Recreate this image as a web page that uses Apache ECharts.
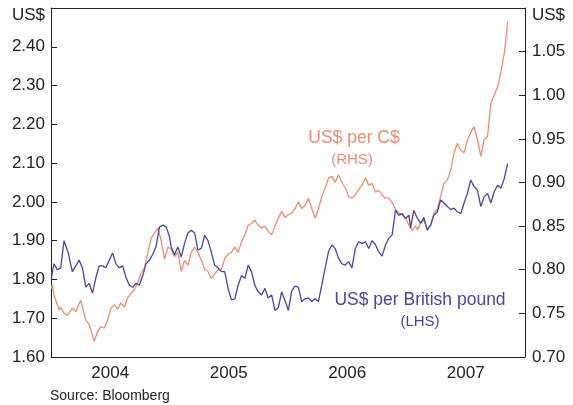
<!DOCTYPE html>
<html>
<head>
<meta charset="utf-8">
<script src="https://cdn.jsdelivr.net/npm/echarts@6/dist/echarts.min.js"></script>
<style>
  html, body { margin: 0; padding: 0; background: #fff; }
  #chart { width: 573px; height: 405px; }
</style>
</head>
<body>
<div id="chart"></div>
<script>
// x values are fractional years (2004.5 = mid 2004)
var years = ['2004', '2005', '2006', '2007']

// US$ per British pound (LHS)
var gbp = [
  [2004.003, 1.80], [2004.01, 1.816], [2004.025, 1.84], [2004.053, 1.825], [2004.082, 1.83],
  [2004.11, 1.90], [2004.144, 1.87], [2004.18, 1.82], [2004.209, 1.835], [2004.237, 1.85],
  [2004.265, 1.83], [2004.294, 1.78], [2004.322, 1.79], [2004.35, 1.765], [2004.379, 1.805],
  [2004.407, 1.835], [2004.435, 1.835], [2004.463, 1.83], [2004.492, 1.85], [2004.52, 1.868],
  [2004.548, 1.84], [2004.576, 1.83], [2004.605, 1.835], [2004.633, 1.805], [2004.661, 1.785],
  [2004.689, 1.78], [2004.718, 1.79], [2004.746, 1.785], [2004.774, 1.81], [2004.802, 1.84],
  [2004.831, 1.85], [2004.859, 1.865], [2004.887, 1.885], [2004.915, 1.935], [2004.944, 1.94],
  [2004.972, 1.935], [2004.986, 1.923], [2005.0, 1.91], [2005.014, 1.884], [2005.042, 1.863],
  [2005.07, 1.884], [2005.099, 1.858], [2005.127, 1.893], [2005.155, 1.92], [2005.184, 1.927],
  [2005.212, 1.92], [2005.24, 1.876], [2005.269, 1.88], [2005.297, 1.914], [2005.325, 1.90],
  [2005.353, 1.87], [2005.381, 1.837], [2005.409, 1.83], [2005.438, 1.82], [2005.466, 1.82],
  [2005.494, 1.777], [2005.523, 1.747], [2005.551, 1.75], [2005.579, 1.785], [2005.608, 1.81],
  [2005.636, 1.803], [2005.664, 1.837], [2005.692, 1.82], [2005.72, 1.785], [2005.748, 1.768],
  [2005.777, 1.76], [2005.805, 1.777], [2005.833, 1.752], [2005.862, 1.76], [2005.89, 1.72],
  [2005.918, 1.727], [2005.947, 1.768], [2005.975, 1.745], [2006.003, 1.72], [2006.031, 1.77],
  [2006.059, 1.783], [2006.087, 1.78], [2006.116, 1.743], [2006.144, 1.75], [2006.172, 1.752],
  [2006.201, 1.743], [2006.229, 1.75], [2006.257, 1.743], [2006.285, 1.786], [2006.314, 1.83],
  [2006.342, 1.872], [2006.37, 1.889], [2006.398, 1.88], [2006.426, 1.855], [2006.455, 1.84],
  [2006.483, 1.837], [2006.511, 1.846], [2006.54, 1.83], [2006.568, 1.88], [2006.596, 1.897],
  [2006.625, 1.893], [2006.653, 1.897], [2006.681, 1.88], [2006.709, 1.90], [2006.737, 1.89],
  [2006.765, 1.872], [2006.794, 1.86], [2006.822, 1.888], [2006.85, 1.906], [2006.879, 1.915],
  [2006.907, 1.979], [2006.935, 1.966], [2006.964, 1.97], [2006.992, 1.957], [2007.02, 1.966],
  [2007.035, 1.932], [2007.048, 1.957], [2007.062, 1.978], [2007.076, 1.974], [2007.091, 1.958],
  [2007.119, 1.945], [2007.147, 1.96], [2007.175, 1.927], [2007.203, 1.94], [2007.232, 1.966],
  [2007.26, 1.974], [2007.288, 2.005], [2007.316, 1.997], [2007.345, 1.988], [2007.373, 1.98],
  [2007.401, 1.984], [2007.43, 1.974], [2007.458, 1.97], [2007.486, 1.997], [2007.514, 2.022],
  [2007.542, 2.056], [2007.57, 2.04], [2007.599, 2.03], [2007.627, 1.988], [2007.655, 2.013],
  [2007.684, 2.022], [2007.712, 1.997], [2007.74, 2.026], [2007.769, 2.043], [2007.797, 2.035],
  [2007.825, 2.06], [2007.853, 2.099]
]

// US$ per C$ (RHS)
var cad = [
  [2004.003, 0.778], [2004.01, 0.783], [2004.025, 0.771], [2004.04, 0.765], [2004.068, 0.754],
  [2004.082, 0.757], [2004.11, 0.75], [2004.14, 0.748], [2004.18, 0.756], [2004.209, 0.752],
  [2004.251, 0.765], [2004.265, 0.757], [2004.294, 0.742], [2004.322, 0.737], [2004.35, 0.725],
  [2004.364, 0.718], [2004.393, 0.729], [2004.421, 0.735], [2004.449, 0.733], [2004.477, 0.742],
  [2004.506, 0.756], [2004.534, 0.76], [2004.562, 0.755], [2004.59, 0.762], [2004.619, 0.757],
  [2004.647, 0.768], [2004.675, 0.773], [2004.703, 0.777], [2004.732, 0.785], [2004.76, 0.796],
  [2004.788, 0.802], [2004.816, 0.819], [2004.845, 0.836], [2004.873, 0.842], [2004.901, 0.848],
  [2004.929, 0.834], [2004.958, 0.812], [2004.986, 0.826], [2005.014, 0.824], [2005.042, 0.815],
  [2005.07, 0.82], [2005.099, 0.798], [2005.127, 0.811], [2005.155, 0.805], [2005.184, 0.82],
  [2005.212, 0.826], [2005.24, 0.82], [2005.269, 0.811], [2005.297, 0.80], [2005.325, 0.798],
  [2005.353, 0.79], [2005.381, 0.795], [2005.409, 0.80], [2005.438, 0.80], [2005.466, 0.813],
  [2005.494, 0.818], [2005.523, 0.82], [2005.551, 0.826], [2005.579, 0.82], [2005.608, 0.832],
  [2005.636, 0.84], [2005.664, 0.851], [2005.692, 0.853], [2005.72, 0.857], [2005.748, 0.851],
  [2005.777, 0.848], [2005.805, 0.85], [2005.833, 0.844], [2005.862, 0.84], [2005.89, 0.85],
  [2005.918, 0.859], [2005.947, 0.867], [2005.975, 0.86], [2006.003, 0.863], [2006.031, 0.865],
  [2006.059, 0.87], [2006.087, 0.878], [2006.116, 0.87], [2006.144, 0.874], [2006.172, 0.882],
  [2006.201, 0.87], [2006.229, 0.859], [2006.257, 0.87], [2006.285, 0.884], [2006.314, 0.894],
  [2006.342, 0.905], [2006.37, 0.907], [2006.398, 0.90], [2006.426, 0.909], [2006.455, 0.90],
  [2006.483, 0.894], [2006.511, 0.884], [2006.54, 0.882], [2006.568, 0.886], [2006.596, 0.892],
  [2006.625, 0.897], [2006.653, 0.905], [2006.681, 0.897], [2006.709, 0.899], [2006.737, 0.889],
  [2006.765, 0.891], [2006.794, 0.886], [2006.822, 0.882], [2006.85, 0.882], [2006.879, 0.877],
  [2006.907, 0.869], [2006.935, 0.865], [2006.964, 0.863], [2006.992, 0.859], [2007.02, 0.851],
  [2007.048, 0.845], [2007.076, 0.85], [2007.091, 0.846], [2007.119, 0.853], [2007.147, 0.857],
  [2007.175, 0.846], [2007.203, 0.851], [2007.232, 0.865], [2007.26, 0.869], [2007.288, 0.884],
  [2007.316, 0.899], [2007.345, 0.903], [2007.373, 0.914], [2007.401, 0.934], [2007.43, 0.945],
  [2007.458, 0.937], [2007.486, 0.934], [2007.514, 0.949], [2007.542, 0.957], [2007.57, 0.964],
  [2007.599, 0.949], [2007.627, 0.93], [2007.655, 0.949], [2007.684, 0.953], [2007.712, 0.991],
  [2007.74, 1.0], [2007.769, 1.01], [2007.797, 1.027], [2007.825, 1.048], [2007.839, 1.064],
  [2007.853, 1.0845]
]

var axisColor = '#222'
var orange = '#f08c70'
var blue = '#4a44a8'
var font = 'Liberation Sans, Arial, sans-serif'

var chart = echarts.init(document.getElementById('chart'))
var option = {
  backgroundColor: '#fff',
  animation: false,
  textStyle: {fontFamily: font},
  grid: {left: 51, right: 48, top: 8, bottom: 48},
  xAxis: [
    {
      type: 'category',
      data: years,
      boundaryGap: true,
      position: 'bottom',
      axisLine: {lineStyle: {color: axisColor, width: 1}},
      axisTick: {inside: true, length: 6, lineStyle: {color: axisColor}},
      axisLabel: {fontSize: 17, color: axisColor, margin: 8, fontFamily: font},
      splitLine: {show: false}
    },
    {
      // data axis, its line closes the frame at the top
      type: 'value',
      min: 2004,
      max: 2008,
      position: 'top',
      axisLine: {show: true, onZero: false, lineStyle: {color: axisColor, width: 1}},
      axisTick: {show: false},
      axisLabel: {show: false},
      splitLine: {show: false}
    }
  ],
  yAxis: [
    {
      type: 'value',
      min: 1.6,
      max: 2.5,
      interval: 0.1,
      position: 'left',
      name: 'US$',
      nameLocation: 'end',
      nameGap: -7,
      nameTextStyle: {fontSize: 17, color: axisColor, align: 'right', verticalAlign: 'middle', padding: [0, 6, 0, 0], fontFamily: font},
      axisLine: {show: true, onZero: false, lineStyle: {color: axisColor, width: 1}},
      axisTick: {show: true, inside: true, length: 6, lineStyle: {color: axisColor}},
      axisLabel: {
        fontSize: 17,
        color: axisColor,
        margin: 6,
        fontFamily: font,
        showMaxLabel: false,
        formatter: function(v) { return v.toFixed(2) }
      },
      splitLine: {show: false}
    },
    {
      type: 'value',
      min: 0.7,
      max: 1.1,
      interval: 0.05,
      position: 'right',
      name: 'US$',
      nameLocation: 'end',
      nameGap: -7,
      nameTextStyle: {fontSize: 17, color: axisColor, align: 'left', verticalAlign: 'middle', padding: [0, 0, 0, 7], fontFamily: font},
      axisLine: {show: true, onZero: false, lineStyle: {color: axisColor, width: 1}},
      axisTick: {show: true, inside: true, length: 6, lineStyle: {color: axisColor}},
      axisLabel: {
        fontSize: 17,
        color: axisColor,
        margin: 7,
        fontFamily: font,
        showMaxLabel: false,
        formatter: function(v) { return v.toFixed(2) }
      },
      splitLine: {show: false}
    }
  ],
  graphic: [
    {type: 'text', left: 50, top: 389, style: {text: 'Source: Bloomberg', fontSize: 14, fill: axisColor, fontFamily: font}},
    {type: 'text', x: 354, y: 138, style: {text: 'US$ per C$', fontSize: 17.5, fill: orange, align: 'center', verticalAlign: 'middle', fontFamily: font}},
    {type: 'text', x: 352, y: 160, style: {text: '(RHS)', fontSize: 15, fill: orange, align: 'center', verticalAlign: 'middle', fontFamily: font}},
    {type: 'text', x: 420, y: 300, style: {text: 'US$ per British pound', fontSize: 17.5, fill: blue, align: 'center', verticalAlign: 'middle', fontFamily: font}},
    {type: 'text', x: 420, y: 322, style: {text: '(LHS)', fontSize: 15, fill: blue, align: 'center', verticalAlign: 'middle', fontFamily: font}}
  ],
  series: [
    {
      name: 'US$ per C$',
      type: 'line',
      xAxisIndex: 1,
      yAxisIndex: 1,
      data: cad,
      showSymbol: false,
      lineStyle: {color: orange, width: 1.3}
    },
    {
      name: 'US$ per British pound',
      type: 'line',
      xAxisIndex: 1,
      yAxisIndex: 0,
      data: gbp,
      showSymbol: false,
      lineStyle: {color: blue, width: 1.3}
    }
  ]
}
chart.setOption(option)
</script>
</body>
</html>
